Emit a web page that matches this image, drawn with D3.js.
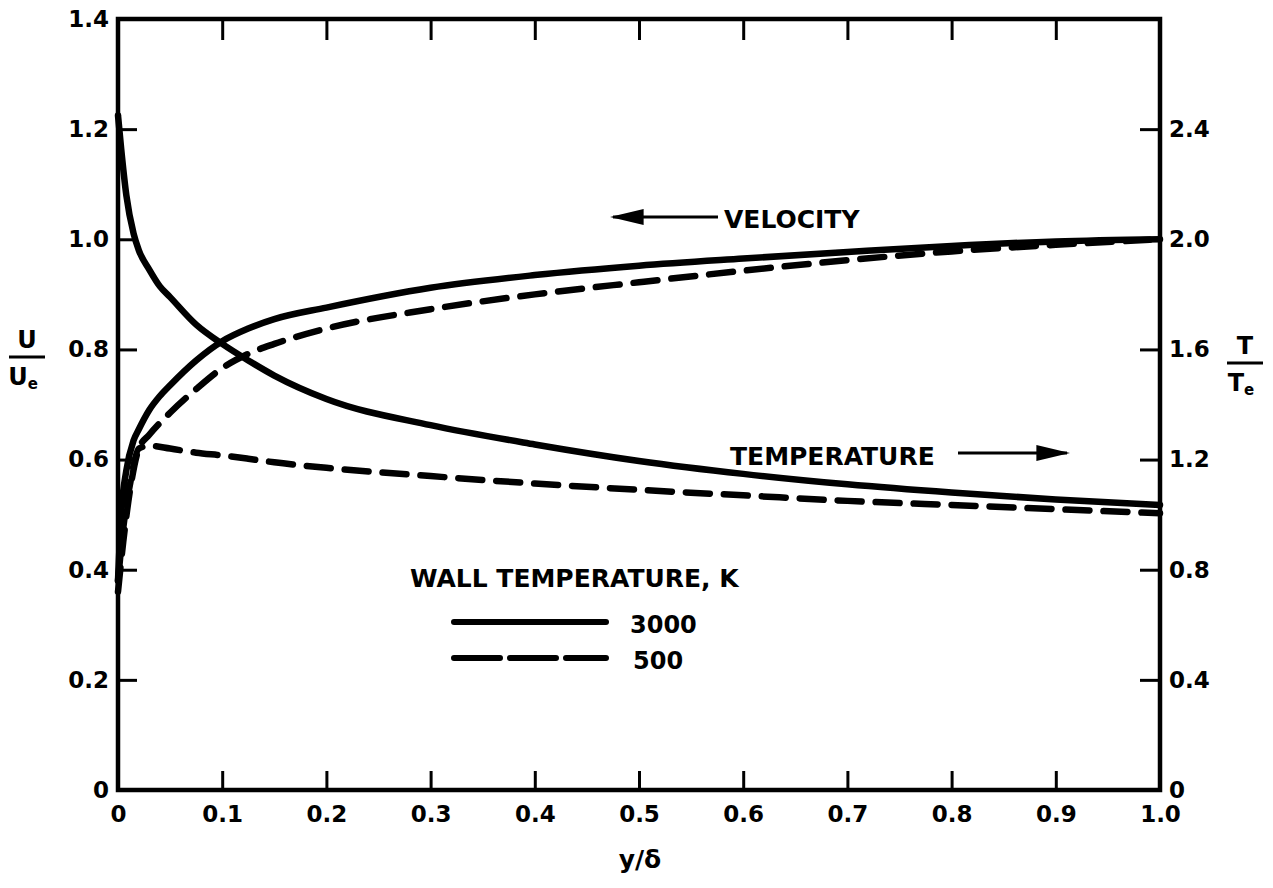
<!DOCTYPE html>
<html>
<head>
<meta charset="utf-8">
<script src="https://cdn.jsdelivr.net/npm/d3@7"></script>
<style>
  body { margin: 0; background: #fff; }
  text { font-family: "DejaVu Sans", sans-serif; fill: #000; }
</style>
</head>
<body>
<div id="chart"></div>
<script>
// Boundary layer profiles: velocity (left axis) and temperature (right axis)
const yDelta = [0, 0.003, 0.008, 0.015, 0.02, 0.03, 0.04, 0.05, 0.075, 0.1, 0.125, 0.15, 0.2, 0.3, 0.4, 0.5, 0.6, 0.7, 0.8, 0.9, 1.0];

// wall temperature 3000 K (solid)
const velocity3000 = [0.38, 0.5, 0.58, 0.635, 0.655, 0.69, 0.715, 0.735, 0.78, 0.815, 0.838, 0.855, 0.876, 0.912, 0.935, 0.952, 0.965, 0.977, 0.988, 0.996, 1.0];
const temperature3000 = [2.45, 2.33, 2.16, 2.02, 1.96, 1.89, 1.83, 1.79, 1.69, 1.62, 1.56, 1.505, 1.42, 1.325, 1.255, 1.195, 1.148, 1.11, 1.08, 1.055, 1.035];

// wall temperature 500 K (dashed)
const yDelta500 = [0, 0.005, 0.012, 0.02, 0.03, 0.05, 0.075, 0.1, 0.125, 0.15, 0.2, 0.3, 0.4, 0.5, 0.6, 0.7, 0.8, 0.9, 1.0];
const velocity500 = [0.36, 0.45, 0.55, 0.62, 0.645, 0.685, 0.728, 0.766, 0.792, 0.81, 0.838, 0.873, 0.9, 0.922, 0.943, 0.962, 0.978, 0.99, 1.0];
const temperature500 = [0.76, 0.95, 1.12, 1.24, 1.25, 1.24, 1.225, 1.215, 1.203, 1.19, 1.17, 1.14, 1.113, 1.09, 1.07, 1.05, 1.035, 1.02, 1.005];

const xTicks = [0, 0.1, 0.2, 0.3, 0.4, 0.5, 0.6, 0.7, 0.8, 0.9, 1.0];
const leftTicks = [0, 0.2, 0.4, 0.6, 0.8, 1.0, 1.2, 1.4];
const rightTicks = [0, 0.4, 0.8, 1.2, 1.6, 2.0, 2.4];

const W = 1273, H = 888;
const svg = d3.select('#chart').append('svg').attr('width', W).attr('height', H);

const x = d3.scaleLinear().domain([0, 1]).range([118, 1160]);
const yL = d3.scaleLinear().domain([0, 1.4]).range([790, 19]);
const yR = d3.scaleLinear().domain([0, 2.8]).range([790, 19]);

const fmt = d => d === 0 ? '0' : d3.format('.1f')(d);

function styleAxis(g) {
    g.select('.domain').remove();
    g.selectAll('line').attr('stroke', '#000').attr('stroke-width', 3);
    g.selectAll('text').attr('font-size', 23).attr('font-weight', 'bold').attr('font-family', '"DejaVu Sans", sans-serif');
}

// bottom axis
svg.append('g').attr('transform', 'translate(0,790)')
    .call(d3.axisBottom(x).tickValues(xTicks).tickFormat(fmt).tickSizeInner(-19).tickSizeOuter(0).tickPadding(16))
    .call(styleAxis);
// top ticks
svg.append('g').attr('transform', 'translate(0,19)')
    .call(d3.axisTop(x).tickValues(xTicks.slice(1, -1)).tickFormat('').tickSizeInner(-21).tickSizeOuter(0))
    .call(styleAxis);
// left axis
svg.append('g').attr('transform', 'translate(118,0)')
    .call(d3.axisLeft(yL).tickValues(leftTicks).tickFormat(fmt).tickSizeInner(-19).tickSizeOuter(0).tickPadding(9))
    .call(styleAxis);
// right axis
svg.append('g').attr('transform', 'translate(1160,0)')
    .call(d3.axisRight(yR).tickValues(rightTicks).tickFormat(fmt).tickSizeInner(-20).tickSizeOuter(0).tickPadding(9))
    .call(styleAxis);

// frame
svg.append('rect')
    .attr('x', x(0)).attr('y', yL(1.4))
    .attr('width', x(1) - x(0)).attr('height', yL(0) - yL(1.4))
    .attr('fill', 'none').attr('stroke', '#000').attr('stroke-width', 4.5);

// curves
function drawCurve(xs, ys, yScale, dashed) {
    const pts = xs.map((d, i) => [d, ys[i]]);
    const line = d3.line().x(d => x(d[0])).y(d => yScale(d[1])).curve(d3.curveMonotoneX);
    svg.append('path').datum(pts)
        .attr('d', line)
        .attr('fill', 'none')
        .attr('stroke', '#000')
        .attr('stroke-width', 6.5)
        .attr('stroke-linecap', 'round')
        .attr('stroke-dasharray', dashed ? '24,14' : null);
}
drawCurve(yDelta, velocity3000, yL, false);
drawCurve(yDelta, temperature3000, yR, false);
drawCurve(yDelta500, velocity500, yL, true);
drawCurve(yDelta500, temperature500, yR, true);

// arrow marker (user units, no aspect scaling)
svg.append('defs').append('marker')
    .attr('id', 'arrow').attr('viewBox', '0 0 10 10')
    .attr('preserveAspectRatio', 'none')
    .attr('refX', 9).attr('refY', 5)
    .attr('markerWidth', 34).attr('markerHeight', 16)
    .attr('markerUnits', 'userSpaceOnUse')
    .attr('orient', 'auto')
    .append('path').attr('d', 'M0,0 L10,5 L0,10 Z').attr('fill', '#000');

// annotations
svg.append('line').attr('x1', 718).attr('y1', 217).attr('x2', 613).attr('y2', 217)
    .attr('stroke', '#000').attr('stroke-width', 3).attr('marker-end', 'url(#arrow)');
svg.append('text').attr('x', 724).attr('y', 228).attr('font-size', 25).attr('font-weight', 'bold').text('VELOCITY');

svg.append('text').attr('x', 730).attr('y', 465).attr('font-size', 25).attr('font-weight', 'bold').text('TEMPERATURE');
svg.append('line').attr('x1', 958).attr('y1', 453).attr('x2', 1067).attr('y2', 453)
    .attr('stroke', '#000').attr('stroke-width', 3).attr('marker-end', 'url(#arrow)');

// legend
svg.append('text').attr('x', 410).attr('y', 587).attr('font-size', 25).attr('font-weight', 'bold').text('WALL TEMPERATURE, K');
svg.append('line').attr('x1', 454).attr('y1', 622).attr('x2', 606).attr('y2', 622)
    .attr('stroke', '#000').attr('stroke-width', 6).attr('stroke-linecap', 'round');
svg.append('text').attr('x', 630).attr('y', 633).attr('font-size', 24).attr('font-weight', 'bold').text('3000');
svg.append('line').attr('x1', 454).attr('y1', 658).attr('x2', 606).attr('y2', 658)
    .attr('stroke', '#000').attr('stroke-width', 6).attr('stroke-linecap', 'round')
    .attr('stroke-dasharray', '46,10');
svg.append('text').attr('x', 633).attr('y', 669).attr('font-size', 24).attr('font-weight', 'bold').text('500');

// axis titles
function fraction(cx, top, letter) {
    svg.append('text').attr('x', cx).attr('y', top).attr('text-anchor', 'middle')
        .attr('font-size', 24).attr('font-weight', 'bold').text(letter);
    svg.append('line').attr('x1', cx - 18).attr('x2', cx + 18).attr('y1', top + 9).attr('y2', top + 9)
        .attr('stroke', '#000').attr('stroke-width', 3);
    const t = svg.append('text').attr('x', cx - 4).attr('y', top + 37).attr('text-anchor', 'middle')
        .attr('font-size', 24).attr('font-weight', 'bold');
    t.append('tspan').text(letter);
    t.append('tspan').attr('font-size', 15).attr('dy', 4).text('e');
}
fraction(27, 348, 'U');
fraction(1245, 354, 'T');

svg.append('text').attr('x', 640).attr('y', 868).attr('text-anchor', 'middle')
    .attr('font-size', 25).attr('font-weight', 'bold').text('y/δ');
</script>
</body>
</html>
